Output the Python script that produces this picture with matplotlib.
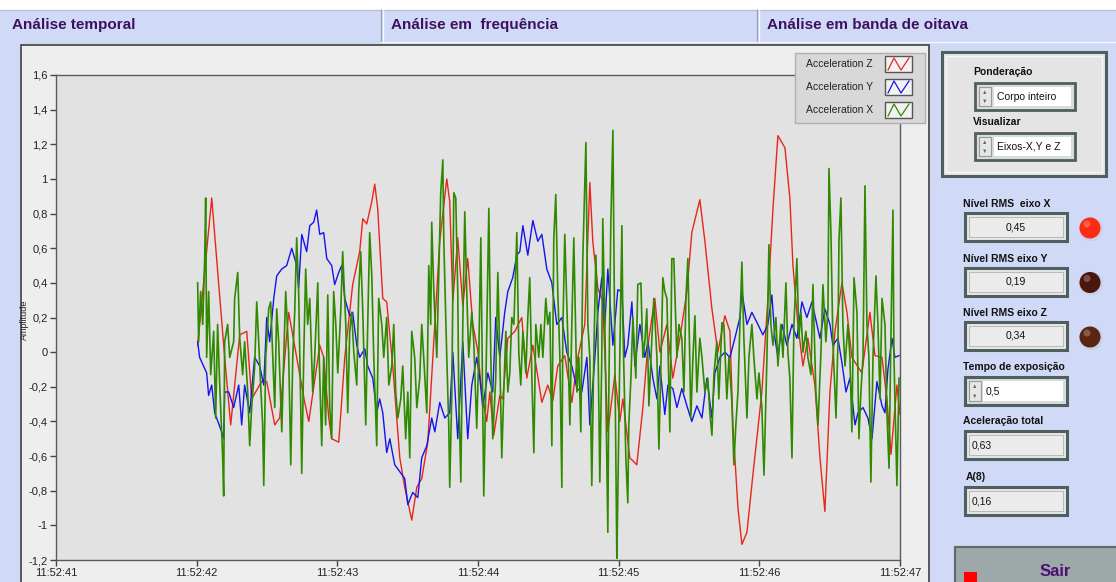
import numpy as np
import matplotlib
matplotlib.use('Agg')
import matplotlib.pyplot as plt
from matplotlib.patches import Rectangle, Circle
from matplotlib.ticker import FuncFormatter

plt.rcParams['font.family'] = ['Liberation Sans', 'DejaVu Sans']

# Dados (tempo em ms depois de 11:52:42, amplitude)

z_ms = [7, 107, 199, 242, 306, 356, 391, 462, 498, 555,
        590, 654, 711, 768, 797, 875, 903, 939, 960, 1010,
        1053, 1109, 1159, 1181, 1209, 1245, 1266, 1287, 1323, 1351,
        1394, 1444, 1479, 1529, 1565, 1600, 1643, 1693, 1728, 1778,
        1799, 1821, 1856, 1892, 1927, 1963, 1998, 2027, 2062, 2084,
        2112, 2155, 2176, 2212, 2262, 2311, 2347, 2390, 2454, 2496,
        2532, 2567, 2617, 2667, 2710, 2759, 2795, 2816, 2852, 2887,
        2923, 2973, 3008, 3030, 3079, 3129, 3172, 3208, 3257, 3293,
        3343, 3385, 3435, 3485, 3520, 3577, 3613, 3663, 3705, 3755,
        3791, 3812, 3848, 3876, 3912, 3954, 4018, 4061, 4097, 4132,
        4182, 4217, 4239, 4274, 4310, 4345, 4395, 4431, 4466, 4502,
        4538, 4587, 4623, 4658, 4729, 4786, 4822, 4872, 4907, 4936,
        4978, 5000]
z_val = [0.04, 0.89, -0.03, -0.42, 0.10, 0.12, -0.27, -0.17, -0.17, -0.42,
         -0.38, 0.23, -0.03, -0.29, -0.40, 0.04, -0.03, -0.38, -0.50, -0.52,
         -0.03, 0.39, 0.58, 0.77, 0.74, 0.87, 0.97, 0.83, 0.31, 0.29,
         -0.08, -0.61, -0.78, -0.97, -0.78, -0.73, -0.52, 0.16, 0.64, 1.00,
         0.87, 0.29, 0.66, 0.27, 0.54, 0.16, 0.01, -0.23, -0.40, -0.23,
         -0.48, -0.25, -0.27, 0.08, 0.12, 0.20, -0.15, 0.04, -0.29, -0.19,
         -0.28, -0.08, -0.02, -0.29, -0.03, 0.16, 0.98, 0.64, 0.37, 0.29,
         -0.46, -0.13, -0.40, -0.27, -0.61, -0.65, -0.32, 0.04, 0.31, 0.00,
         0.16, -0.15, 0.08, 0.35, 0.69, 0.88, 0.64, 0.25, 0.00, 0.21,
         0.12, -0.42, -0.90, -1.11, -1.04, -0.71, -0.23, 0.31, 0.83, 1.25,
         1.18, 0.89, 0.50, 0.16, -0.08, 0.08, -0.19, -0.61, -0.92, -0.23,
         0.12, 0.40, 0.23, -0.03, -0.12, 0.23, -0.02, -0.03, -0.27, -0.59,
         -0.19, -0.36]

y_ms = [7, 21, 71, 85, 107, 128, 178, 192, 199, 228,
        263, 299, 320, 341, 377, 412, 448, 477, 498, 519,
        548, 569, 605, 640, 676, 711, 725, 747, 782, 804,
        832, 853, 875, 903, 925, 960, 981, 1010, 1031, 1053,
        1088, 1109, 1138, 1159, 1195, 1216, 1252, 1280, 1301, 1323,
        1351, 1373, 1408, 1444, 1479, 1501, 1536, 1572, 1600, 1636,
        1671, 1693, 1728, 1764, 1799, 1821, 1856, 1892, 1927, 1956,
        1991, 2013, 2034, 2070, 2105, 2126, 2155, 2190, 2212, 2247,
        2276, 2297, 2319, 2354, 2390, 2425, 2454, 2489, 2525, 2560,
        2596, 2631, 2667, 2703, 2738, 2774, 2795, 2831, 2852, 2880,
        2902, 2923, 2959, 2994, 3023, 3044, 3065, 3094, 3115, 3151,
        3186, 3208, 3243, 3272, 3293, 3328, 3350, 3385, 3414, 3449,
        3485, 3520, 3556, 3592, 3627, 3663, 3684, 3720, 3755, 3791,
        3826, 3862, 3876, 3912, 3947, 3990, 4025, 4061, 4089, 4111,
        4132, 4161, 4196, 4232, 4267, 4303, 4338, 4374, 4409, 4431,
        4466, 4502, 4523, 4559, 4587, 4616, 4644, 4680, 4701, 4737,
        4772, 4801, 4836, 4872, 4893, 4914, 4943, 4964, 4993]
y_val = [0.06, -0.03, -0.12, -0.25, -0.19, -0.35, -0.46, -0.50, -0.23, -0.23,
         -0.32, -0.19, -0.42, -0.19, -0.35, -0.03, -0.08, -0.19, 0.20, 0.06,
         0.31, 0.44, 0.48, 0.50, 0.60, 0.50, 0.37, 0.68, 0.58, 0.73,
         0.75, 0.82, 0.68, 0.69, 0.54, 0.50, 0.39, 0.46, 0.50, 0.31,
         0.21, 0.23, 0.04, -0.03, 0.02, -0.08, -0.15, -0.35, -0.27, -0.35,
         -0.58, -0.50, -0.65, -0.69, -0.73, -0.88, -0.81, -0.84, -0.61, -0.54,
         -0.38, -0.46, -0.29, -0.38, -0.35, 0.00, -0.50, 0.06, -0.50, -0.19,
         -0.03, -0.15, -0.32, -0.12, -0.23, 0.20, -0.03, 0.23, 0.35, 0.43,
         0.56, 0.58, 0.73, 0.56, 0.76, 0.64, 0.68, 0.48, 0.40, 0.16,
         0.20, 0.00, -0.08, -0.21, -0.23, -0.03, -0.42, -0.03, 0.23, 0.43,
         0.16, 0.48, 0.04, 0.36, 0.35, -0.03, 0.04, 0.29, -0.08, 0.16,
         -0.03, 0.06, -0.15, -0.27, -0.08, -0.36, -0.19, -0.21, -0.32, -0.21,
         -0.31, -0.40, -0.31, -0.38, -0.15, -0.38, -0.12, -0.03, 0.00, -0.03,
         0.08, 0.20, 0.35, 0.16, 0.23, 0.16, 0.10, 0.16, 0.33, 0.08,
         -0.03, 0.16, 0.04, 0.16, 0.08, 0.29, 0.20, 0.29, 0.16, 0.08,
         0.25, 0.16, 0.04, 0.08, -0.06, -0.23, -0.15, -0.42, -0.35, -0.32,
         -0.38, -0.50, -0.17, -0.31, -0.35, -0.10, 0.08, -0.03, -0.02]

x_ms = [7, 14, 28, 43, 57, 64, 71, 85, 100, 121,
        135, 149, 164, 185, 192, 199, 220, 235, 263, 270,
        292, 306, 327, 341, 363, 377, 391, 412, 427, 441,
        455, 469, 477, 491, 512, 526, 541, 555, 569, 583,
        605, 619, 633, 654, 669, 683, 697, 711, 725, 740,
        747, 761, 775, 789, 804, 825, 839, 861, 868, 889,
        903, 917, 932, 946, 960, 974, 989,
        1003, 1024, 1038, 1060, 1074, 1088, 1102, 1117, 1138, 1152,
        1166, 1181, 1202, 1216, 1230, 1245, 1259, 1280, 1294, 1316,
        1330, 1351, 1366, 1387, 1401, 1415, 1430, 1451, 1465, 1486,
        1501, 1515, 1529, 1550, 1565, 1586, 1600, 1614, 1636, 1650,
        1664, 1671, 1686, 1707, 1721, 1735, 1750, 1757, 1778, 1792,
        1799, 1814, 1828, 1842, 1856, 1863, 1878, 1892, 1906, 1920,
        1934, 1956, 1970, 1991,
        2006, 2020, 2027, 2041, 2055, 2070, 2077, 2091, 2105, 2126,
        2141, 2155, 2169, 2183, 2198, 2212, 2226, 2240, 2255, 2276,
        2290, 2304, 2319, 2340, 2354, 2368, 2383, 2397, 2411, 2432,
        2447, 2461, 2482, 2496, 2511, 2525, 2539, 2553, 2567, 2582,
        2596, 2603, 2617, 2639, 2653, 2667, 2681, 2703, 2717, 2731,
        2745, 2767, 2781, 2795, 2809, 2823, 2838, 2852, 2866, 2880,
        2887, 2902, 2923, 2930, 2944, 2959, 2973, 2987,
        2994, 3008, 3023, 3030, 3051, 3065, 3072, 3087, 3101, 3122,
        3136, 3158, 3172, 3186, 3200, 3215, 3236, 3250, 3272, 3286,
        3307, 3314, 3328, 3343, 3364, 3378, 3392, 3414, 3428, 3449,
        3464, 3478, 3492, 3513, 3528, 3542, 3556, 3577, 3592, 3613,
        3634, 3648, 3663, 3677, 3698, 3712, 3734, 3748, 3769, 3784,
        3805, 3819, 3833, 3848, 3862, 3876, 3890, 3912, 3926, 3947,
        3961, 3983,
        3997, 4018, 4033, 4054, 4068, 4082, 4097, 4118, 4132, 4153,
        4168, 4189, 4203, 4217, 4232, 4246, 4267, 4281, 4296, 4310,
        4331, 4345, 4367, 4381, 4402, 4417, 4438, 4452, 4473, 4488,
        4495, 4509, 4523, 4545, 4559, 4566, 4580, 4594, 4609, 4630,
        4644, 4658, 4673, 4694, 4708, 4722, 4737, 4751, 4765, 4779,
        4793, 4808, 4829, 4843, 4858, 4872, 4893, 4907, 4922, 4936,
        4950, 4957, 4978, 4993]
x_val = [0.40, 0.06, 0.35, 0.16, 0.54, 0.89, -0.03, 0.35, -0.13, 0.12,
         -0.38, 0.16, -0.19, -0.61, -0.83, 0.06, 0.16, -0.03, 0.06, 0.31,
         0.46, 0.08, -0.13, 0.06, -0.23, -0.54, -0.32, -0.09, 0.29, 0.06,
         -0.19, -0.42, -0.77, -0.03, 0.25, 0.29, -0.03, -0.32, 0.25, 0.06,
         -0.46, -0.03, 0.35, 0.00, -0.65, -0.03, 0.23, 0.66, 0.35, -0.32,
         -0.70, -0.03, 0.48, 0.16, 0.31, -0.23, -0.03, 0.40, 0.06, -0.54,
         -0.03, -0.42, 0.33, -0.32, -0.50, 0.35, 0.16,
         -0.12, 0.23, 0.58, 0.16, -0.35, 0.12, 0.23, 0.00, -0.19, 0.35,
         0.58, 0.23, -0.42, 0.16, 0.69, 0.44, -0.03, -0.54, 0.31, 0.16,
         -0.03, 0.20, -0.19, -0.08, 0.16, -0.23, -0.38, -0.27, -0.08, -0.50,
         -0.23, -0.61, 0.12, -0.03, -0.32, -0.15, 0.16, -0.03, -0.35, 0.50,
         0.16, 0.75, 0.35, -0.03, 0.44, 0.92, 1.11, 0.64, -0.03, -0.42,
         -0.78, -0.23, 0.92, 0.89, 0.35, -0.23, -0.75, 0.16, 0.81, 0.35,
         -0.03, 0.23, 0.06, -0.44,
         0.00, 0.66, 0.16, -0.83, -0.23, 0.50, 0.83, -0.03, -0.50, -0.15,
         0.46, -0.03, -0.61, -0.23, 0.12, -0.23, -0.12, 0.20, 0.16, 0.69,
         0.00, -0.19, 0.12, -0.12, 0.20, 0.43, -0.15, -0.58, 0.16, -0.03,
         0.16, -0.03, 0.31, 0.16, 0.23, -0.54, 0.66, 0.91, 0.35, -0.03,
         -0.78, 0.12, 0.68, 0.06, -0.42, 0.16, 0.66, -0.23, -0.03, -0.46,
         0.54, 1.21, 0.16, -0.03, -0.77, -0.03, 0.56, 0.12, -0.75, -0.03,
         0.77, 0.16, -1.04, -0.23, 0.73, 1.28, -0.03, -1.19,
         -0.83, -0.03, 0.73, 0.16, -0.61, -0.87, -0.42, -0.15, 0.20, -0.15,
         0.39, 0.40, -0.03, 0.06, 0.25, -0.31, 0.08, 0.31, -0.03, -0.56,
         0.16, 0.43, 0.35, 0.31, -0.46, 0.54, 0.54, -0.03, 0.16, 0.08,
         -0.23, 0.31, 0.54, -0.38, -0.03, 0.21, -0.23, 0.08, -0.03, -0.23,
         -0.15, -0.35, -0.48, -0.13, 0.06, -0.27, 0.17, 0.16, -0.27, -0.03,
         -0.29, -0.65, -0.42, -0.23, 0.16, 0.52, 0.08, -0.38, -0.03, 0.16,
         -0.03, -0.27,
         -0.12, -0.32, -0.71, -0.03, 0.62, 0.16, 0.04, 0.20, -0.08, 0.16,
         -0.03, 0.40, 0.00, -0.15, -0.61, 0.16, 0.54, 0.08, 0.23, 0.00,
         0.12, -0.03, -0.13, 0.39, -0.23, -0.42, 0.00, 0.39, 0.06, 0.25,
         1.06, 0.69, 0.06, -0.38, 0.06, 0.64, 0.89, 0.16, -0.08, 0.16,
         -0.03, -0.46, 0.43, 0.23, -0.50, -0.23, -0.03, 0.96, 0.16, -0.03,
         -0.75, -0.03, 0.44, 0.16, -0.27, 0.31, 0.16, -0.35, -0.67, 0.12,
         0.82, -0.03, -0.77, -0.15]

series = [('Acceleration Z', z_ms, z_val, '#e8261c', 1.0),
          ('Acceleration Y', y_ms, y_val, '#1414ee', 1.0),
          ('Acceleration X', x_ms, x_val, '#2f8a00', 1.2)]

tabs = ['Análise temporal', 'Análise em  frequência', 'Análise em banda de oitava']
tab_x = [12, 391, 767]

indicadores = [('Nível RMS  eixo X', '0,45', '#ff2a12'),
               ('Nível RMS eixo Y', '0,19', '#4a160e'),
               ('Nível RMS eixo Z', '0,34', '#5a2612')]

W, H = 1116, 582
lavanda = '#d0daf7'
roxo = '#3e1060'

fig = plt.figure(figsize=(W / 100, H / 100), dpi=100)
fig.patch.set_facecolor(lavanda)

bg = fig.add_axes([0, 0, 1, 1], zorder=0)
bg.set_xlim(0, W)
bg.set_ylim(H, 0)
bg.axis('off')


def caixa(ax, x0, y0, x1, y1, fc, ec='none', lw=1.0, z=1):
    ax.add_patch(Rectangle((x0, y0), x1 - x0, y1 - y0, facecolor=fc,
                           edgecolor=ec, linewidth=lw, zorder=z))


# faixa superior e abas
caixa(bg, 0, 0, W, 10, 'white')
bg.plot([0, W], [10, 10], color='#b8c0d8', lw=1)
for sx in [381, 757]:
    bg.plot([sx, sx], [10, 42], color='#9aa2bc', lw=1)
    bg.plot([sx + 1.5, sx + 1.5], [10, 42], color='#f4f6ff', lw=1)
bg.plot([381, W], [42, 42], color='#f4f6ff', lw=1)
for t, tx in zip(tabs, tab_x):
    bg.text(tx, 25, t, fontsize=11, fontweight='bold', color=roxo, va='center')

# moldura do grafico
caixa(bg, 21, 45, 929, 590, '#eeeeee', '#4d4d4d', 1.3)
bg.text(24, 320, 'Amplitude', rotation=90, fontsize=6.5, color='#222',
        va='center', ha='center')

# grafico
ax = fig.add_axes([56 / W, 1 - 560 / H, (900 - 56) / W, (560 - 75) / H], zorder=1)
ax.set_facecolor('#e2e2e2')
for nome, ms, val, cor, lw in series:
    ax.plot(1 + np.array(ms) / 1000.0, val, color=cor, lw=lw)
ax.set_xlim(0, 6)
ax.set_ylim(-1.2, 1.6)
ax.set_xticks(range(7))
ax.set_yticks(np.round(np.arange(-1.2, 1.61, 0.2), 1))
ax.xaxis.set_major_formatter(FuncFormatter(lambda v, p: '11:52:%02d' % (41 + int(round(v)))))


def fmt_y(v, p):
    if abs(v) < 1e-9:
        return '0'
    return ('%g' % round(v, 1)).replace('.', ',')


ax.yaxis.set_major_formatter(FuncFormatter(fmt_y))
ax.tick_params(direction='out', length=4, width=1, color='#444', labelsize=8,
               labelcolor='#222', pad=2)
for s in ax.spines.values():
    s.set_color('#5a5a5a')
    s.set_linewidth(1)

# legenda
fg = fig.add_axes([0, 0, 1, 1], zorder=3)
fg.set_xlim(0, W)
fg.set_ylim(H, 0)
fg.axis('off')
caixa(fg, 795, 53, 925, 123, '#d8d8d8', '#b0b0b0', 1)
for i, (nome, ms, val, cor, lw) in enumerate(series):
    yc = 64 + i * 23
    fg.text(806, yc, nome, fontsize=7.5, color='#222', va='center')
    caixa(fg, 885, yc - 8, 912, yc + 8, '#f2f2f2', '#555555', 1, z=2)
    fg.plot([888, 894, 901, 909], [yc + 6, yc - 6, yc + 6, yc - 6], color=cor, lw=0.9, zorder=3)

# painel da direita
caixa(bg, 942, 52, 1106, 176, '#e4e4e4', '#4f5f5f', 2.2)
caixa(bg, 946, 56, 1102, 172, 'none', '#f6f6f6', 1)
bg.text(973, 72, 'Ponderação', fontsize=7.5, fontweight='bold', color='#111', va='center')
bg.text(973, 122, 'Visualizar', fontsize=7.5, fontweight='bold', color='#111', va='center')
for y0, txt in [(83, 'Corpo inteiro'), (133, 'Eixos-X,Y e Z')]:
    caixa(bg, 975, y0, 1075, y0 + 27, '#d8dcdc', '#4f5f5f', 2)
    caixa(bg, 994, y0 + 4, 1071, y0 + 23, 'white')
    caixa(bg, 979, y0 + 4, 991, y0 + 23, '#e6e6e6', '#9a9a9a', 0.8)
    bg.text(985, y0 + 9, '▲', fontsize=4, color='#666', ha='center', va='center')
    bg.text(985, y0 + 18, '▼', fontsize=4, color='#666', ha='center', va='center')
    bg.text(997, y0 + 13.5, txt, fontsize=7.5, color='#111', va='center')

for i, (rot, valor, led) in enumerate(indicadores):
    y0 = 213 + i * 54.5
    bg.text(963, y0 - 9, rot, fontsize=7.5, fontweight='bold', color='#111', va='center')
    caixa(bg, 965, y0, 1067, y0 + 28, '#e6e6e6', '#4f5f5f', 2.2)
    caixa(bg, 969, y0 + 4, 1063, y0 + 24, '#ebebeb', '#b0b0b0', 0.6)
    bg.text(1016, y0 + 14, valor, fontsize=7.5, color='#111', ha='center', va='center')
    bg.add_patch(Circle((1091, y0 + 16), 12, facecolor='#c8cfe6', edgecolor='none', zorder=1))
    bg.add_patch(Circle((1090, y0 + 15), 10.5, facecolor=led, edgecolor='none', zorder=2))
    bg.add_patch(Circle((1087, y0 + 11), 3.5, facecolor='white', alpha=0.25, edgecolor='none', zorder=3))

# tempo de exposicao e resultados
bg.text(963, 367, 'Tempo de exposição', fontsize=7.5, fontweight='bold', color='#111', va='center')
caixa(bg, 965, 377, 1067, 405, '#d8dcdc', '#4f5f5f', 2.2)
caixa(bg, 983, 381, 1063, 401, 'white')
caixa(bg, 969, 381, 981, 401, '#e6e6e6', '#9a9a9a', 0.8)
bg.text(975, 386, '▲', fontsize=4, color='#666', ha='center', va='center')
bg.text(975, 396, '▼', fontsize=4, color='#666', ha='center', va='center')
bg.text(986, 391, '0,5', fontsize=7.5, color='#111', va='center')

for y0, rot, valor in [(431, 'Aceleração total', '0,63'), (487, 'A(8)', '0,16')]:
    bg.text(963 if rot != 'A(8)' else 966, y0 - 10, rot, fontsize=7.5, fontweight='bold',
            color='#111', va='center')
    caixa(bg, 965, y0, 1067, y0 + 28, '#e6e6e6', '#4f5f5f', 2.2)
    caixa(bg, 969, y0 + 4, 1063, y0 + 24, '#ebebeb', '#b0b0b0', 0.6)
    bg.text(972, y0 + 14, valor, fontsize=7.5, color='#111', va='center')

# botao sair
caixa(bg, 955, 547, 1118, 590, '#9ea8a8', '#5e6a6a', 1.5)
caixa(bg, 964, 572, 977, 590, '#ff0000')
bg.text(1055, 564, 'Sair', fontsize=12, fontweight='bold', color='#4b1070',
        ha='center', va='top')

fig.savefig('out.png', dpi=100, facecolor=fig.get_facecolor())
